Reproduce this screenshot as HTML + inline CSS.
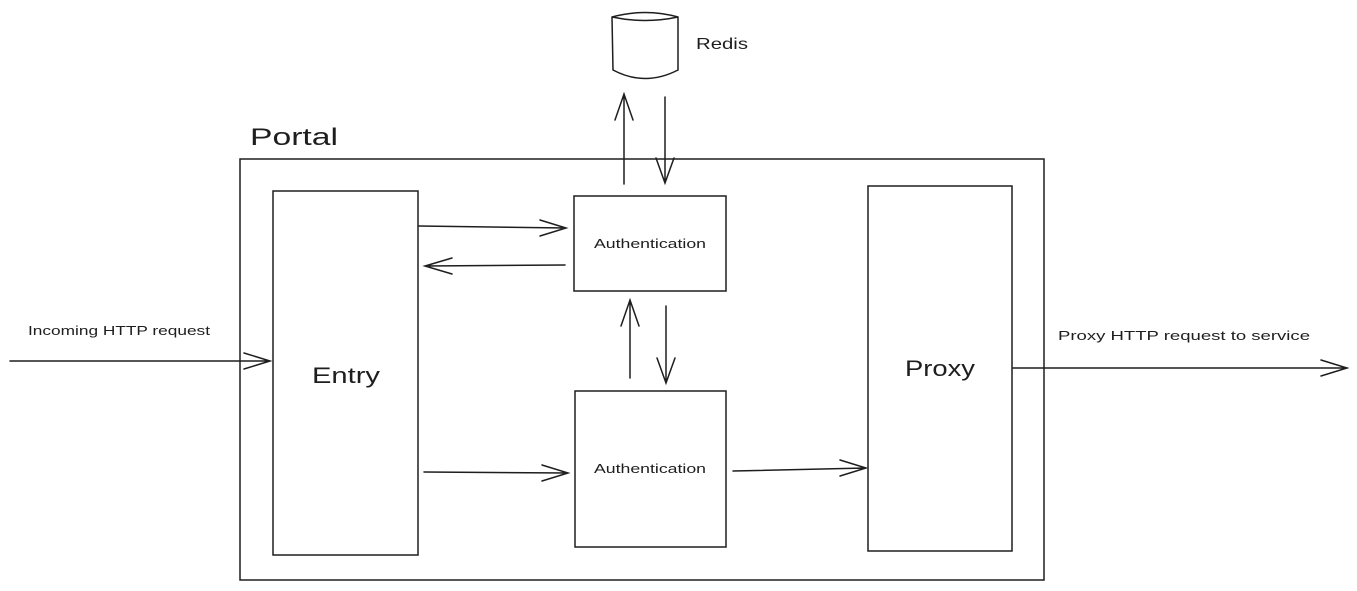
<!DOCTYPE html>
<html><head><meta charset="utf-8"><style>
html,body{margin:0;padding:0;background:#fff;}
svg{display:block;}
text{font-family:"Liberation Sans",sans-serif;fill:#1e1e1e;}
</style></head><body>
<svg width="1357" height="591" viewBox="0 0 1357 591" xmlns="http://www.w3.org/2000/svg">
<g fill="none" stroke="#1e1e1e" stroke-width="1.5" stroke-linecap="round">
<rect x="240" y="159" width="804" height="421"/>
<rect x="273" y="191" width="145" height="364"/>
<rect x="574" y="196" width="152" height="95"/>
<rect x="575" y="391" width="151" height="156"/>
<rect x="868" y="186" width="144" height="365"/>
<path d="M612 17 Q645 8 678 17 Q645 24 612 17 Z"/>
<path d="M612 17 L613 70 Q645 87 678 70 L678 17"/>
<path d="M624 184 L624 94 M615 120 L624 94 L633 120"/>
<path d="M665 97 L665 183 M656 158 L665 183 L674 158"/>
<path d="M419 226 L566 228 M540 220 L566 228 L540 236"/>
<path d="M565 265 L425 266 M452 258 L425 266 L452 274"/>
<path d="M630 378 L630 300 M621 326 L630 300 L639 326"/>
<path d="M666 306 L666 383 M657 358 L666 383 L675 358"/>
<path d="M424 472 L568 473 M542 465 L568 473 L542 481"/>
<path d="M733 471 L866 468 M840 460 L866 468 L840 476"/>
<path d="M10 361 L270 361 M244 353 L270 361 L244 369"/>
<path d="M1013 368 L1347 368 M1321 360 L1347 368 L1321 376"/>
</g>
<text x="696" y="49" font-size="16" textLength="52" lengthAdjust="spacingAndGlyphs">Redis</text>
<text x="250" y="145" font-size="24" textLength="88" lengthAdjust="spacingAndGlyphs">Portal</text>
<text x="594" y="248" font-size="13" textLength="112" lengthAdjust="spacingAndGlyphs">Authentication</text>
<text x="594" y="473" font-size="13" textLength="112" lengthAdjust="spacingAndGlyphs">Authentication</text>
<text x="312" y="383" font-size="22" textLength="68" lengthAdjust="spacingAndGlyphs">Entry</text>
<text x="905" y="376" font-size="22" textLength="70" lengthAdjust="spacingAndGlyphs">Proxy</text>
<text x="28" y="335" font-size="13" textLength="182" lengthAdjust="spacingAndGlyphs">Incoming HTTP request</text>
<text x="1058" y="340" font-size="13" textLength="252" lengthAdjust="spacingAndGlyphs">Proxy HTTP request to service</text>
</svg>
</body></html>
